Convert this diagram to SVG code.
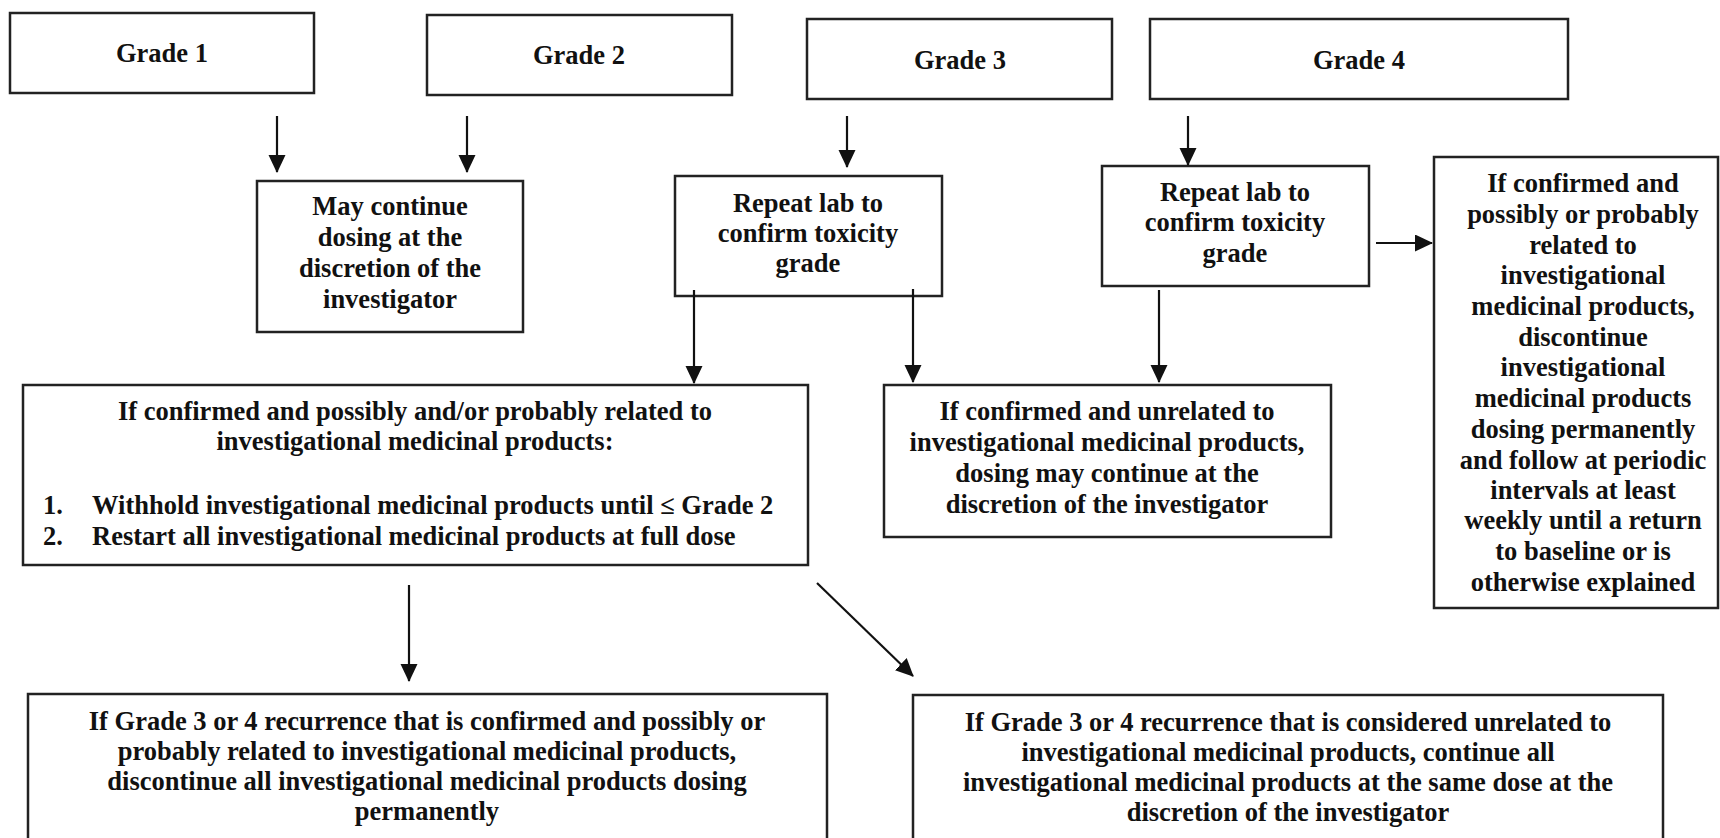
<svg xmlns="http://www.w3.org/2000/svg" width="1720" height="838" viewBox="0 0 1720 838">
<defs>
<style>
.box{fill:#fff;stroke:#222;stroke-width:2.5}
.t{font-family:"Liberation Serif","Times New Roman",serif;font-weight:bold;font-size:26.5px;fill:#111;text-anchor:middle}
.ts{font-family:"Liberation Serif","Times New Roman",serif;font-weight:bold;font-size:26.5px;fill:#111;text-anchor:start}
.c{stroke:#111;stroke-width:2.2;fill:none}
</style>
<marker id="ah" markerUnits="userSpaceOnUse" markerWidth="18" markerHeight="18" viewBox="0 0 18 18" refX="17" refY="8.5" orient="auto">
<path d="M0,0 L18,8.5 L0,17 Z" fill="#111"/>
</marker>
</defs>
<rect width="1720" height="838" fill="#fff"/>

<g id="grade1">
<rect class="box" x="10" y="13" width="304" height="80"/>
<text class="t" x="162" y="62">Grade 1</text>
</g>
<g id="grade2">
<rect class="box" x="427" y="15" width="305" height="80"/>
<text class="t" x="579" y="64">Grade 2</text>
</g>
<g id="grade3">
<rect class="box" x="807" y="19" width="305" height="80"/>
<text class="t" x="960" y="69">Grade 3</text>
</g>
<g id="grade4">
<rect class="box" x="1150" y="19" width="418" height="80"/>
<text class="t" x="1359" y="69">Grade 4</text>
</g>

<g id="may-continue">
<rect class="box" x="257" y="181" width="266" height="151"/>
<text class="t" x="390" y="215">May continue</text>
<text class="t" x="390" y="246">dosing at the</text>
<text class="t" x="390" y="277">discretion of the</text>
<text class="t" x="390" y="308">investigator</text>
</g>

<g id="repeat-lab-3">
<rect class="box" x="675" y="176" width="267" height="120"/>
<text class="t" x="808" y="212">Repeat lab to</text>
<text class="t" x="808" y="242">confirm toxicity</text>
<text class="t" x="808" y="272">grade</text>
</g>

<g id="repeat-lab-4">
<rect class="box" x="1102" y="166" width="267" height="120"/>
<text class="t" x="1235" y="201">Repeat lab to</text>
<text class="t" x="1235" y="231">confirm toxicity</text>
<text class="t" x="1235" y="262">grade</text>
</g>

<g id="grade4-related">
<rect class="box" x="1434" y="157" width="284" height="451"/>
<text class="t" x="1583" y="192">If confirmed and</text>
<text class="t" x="1583" y="223">possibly or probably</text>
<text class="t" x="1583" y="254">related to</text>
<text class="t" x="1583" y="284">investigational</text>
<text class="t" x="1583" y="315">medicinal products,</text>
<text class="t" x="1583" y="346">discontinue</text>
<text class="t" x="1583" y="376">investigational</text>
<text class="t" x="1583" y="407">medicinal products</text>
<text class="t" x="1583" y="438">dosing permanently</text>
<text class="t" x="1583" y="469">and follow at periodic</text>
<text class="t" x="1583" y="499">intervals at least</text>
<text class="t" x="1583" y="529">weekly until a return</text>
<text class="t" x="1583" y="560">to baseline or is</text>
<text class="t" x="1583" y="591">otherwise explained</text>
</g>

<g id="related-withhold">
<rect class="box" x="23" y="385" width="785" height="180"/>
<text class="t" x="415" y="420">If confirmed and possibly and/or probably related to</text>
<text class="t" x="415" y="450">investigational medicinal products:</text>
<text class="ts" x="43" y="514">1.</text>
<text class="ts" x="92" y="514">Withhold investigational medicinal products until ≤ Grade 2</text>
<text class="ts" x="43" y="545">2.</text>
<text class="ts" x="92" y="545">Restart all investigational medicinal products at full dose</text>
</g>

<g id="unrelated-continue">
<rect class="box" x="884" y="385" width="447" height="152"/>
<text class="t" x="1107" y="420">If confirmed and unrelated to</text>
<text class="t" x="1107" y="451">investigational medicinal products,</text>
<text class="t" x="1107" y="482">dosing may continue at the</text>
<text class="t" x="1107" y="513">discretion of the investigator</text>
</g>

<g id="recurrence-related">
<rect class="box" x="28" y="694" width="799" height="160"/>
<text class="t" x="427" y="730">If Grade 3 or 4 recurrence that is confirmed and possibly or</text>
<text class="t" x="427" y="760">probably related to investigational medicinal products,</text>
<text class="t" x="427" y="790">discontinue all investigational medicinal products dosing</text>
<text class="t" x="427" y="820">permanently</text>
</g>

<g id="recurrence-unrelated">
<rect class="box" x="913" y="695" width="750" height="160"/>
<text class="t" x="1288" y="731">If Grade 3 or 4 recurrence that is considered unrelated to</text>
<text class="t" x="1288" y="761">investigational medicinal products, continue all</text>
<text class="t" x="1288" y="791">investigational medicinal products at the same dose at the</text>
<text class="t" x="1288" y="821">discretion of the investigator</text>
</g>

<g id="connectors">
<line class="c" x1="277" y1="116" x2="277" y2="172" marker-end="url(#ah)"/>
<line class="c" x1="467" y1="116" x2="467" y2="172" marker-end="url(#ah)"/>
<line class="c" x1="847" y1="116" x2="847" y2="167" marker-end="url(#ah)"/>
<line class="c" x1="1188" y1="116" x2="1188" y2="165" marker-end="url(#ah)"/>
<line class="c" x1="1376" y1="243" x2="1432" y2="243" marker-end="url(#ah)"/>
<line class="c" x1="694" y1="290" x2="694" y2="383" marker-end="url(#ah)"/>
<line class="c" x1="913" y1="289" x2="913" y2="382" marker-end="url(#ah)"/>
<line class="c" x1="1159" y1="290" x2="1159" y2="382" marker-end="url(#ah)"/>
<line class="c" x1="409" y1="585" x2="409" y2="681" marker-end="url(#ah)"/>
<line class="c" x1="817" y1="583" x2="913" y2="676" marker-end="url(#ah)"/>
</g>
</svg>
